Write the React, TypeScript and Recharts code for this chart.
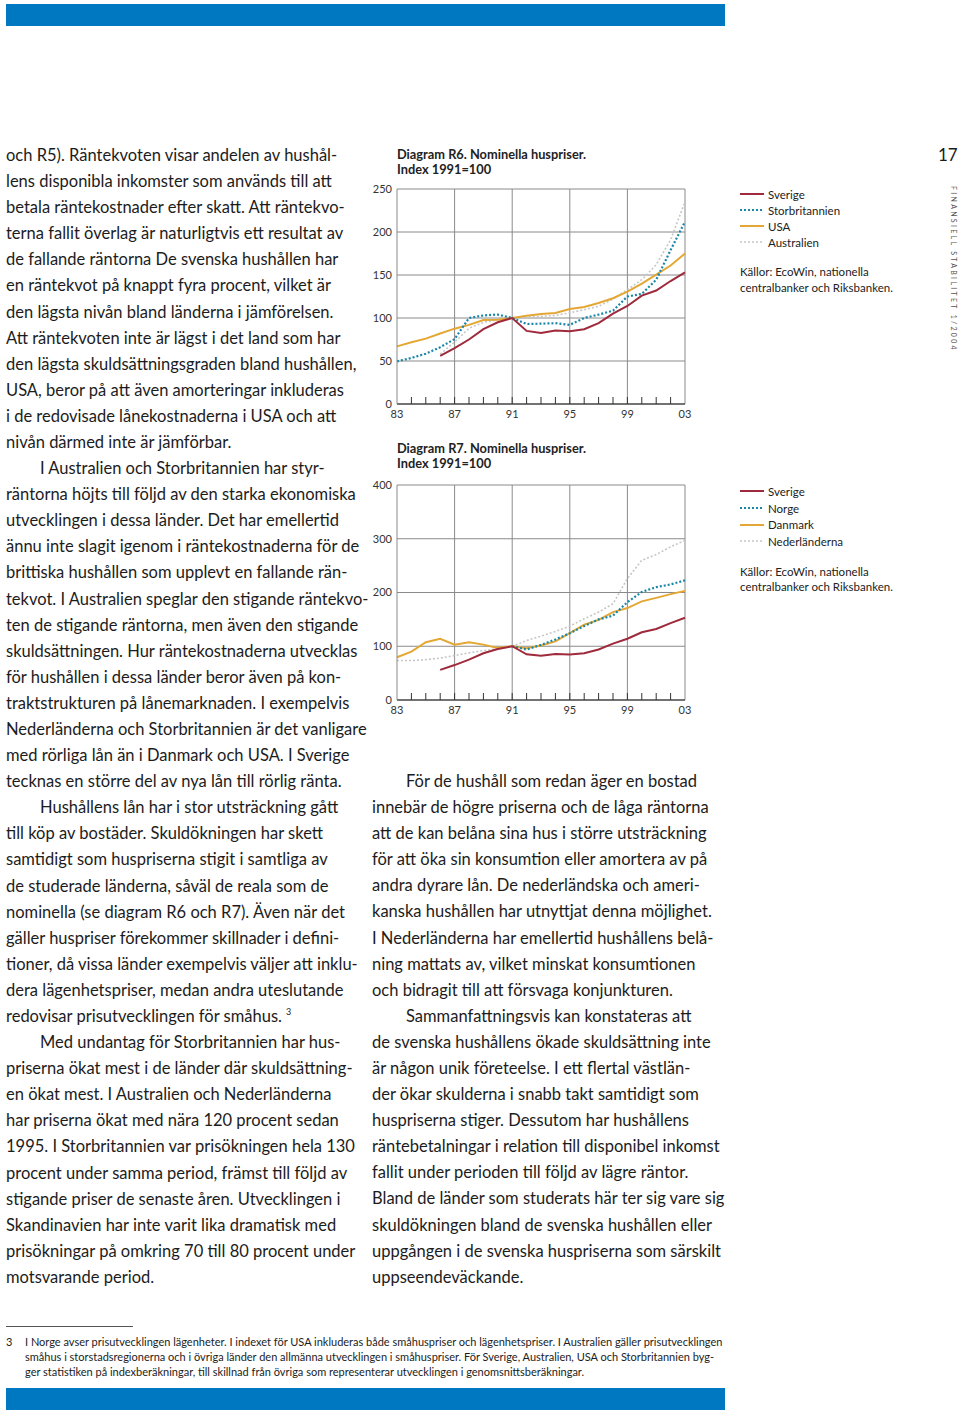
import React from 'react';
import {
  LineChart, Line, XAxis, YAxis, CartesianGrid, ReferenceLine, Legend,
} from 'recharts';

// år 1983–2003
const years = [1983, 1984, 1985, 1986, 1987, 1988, 1989, 1990, 1991, 1992, 1993, 1994, 1995, 1996, 1997, 1998, 1999, 2000, 2001, 2002, 2003];
const gridYears = [1987, 1991, 1995, 1999, 2003];

const sverige = [null, null, null, 56, 65, 75, 87, 95, 100, 85, 82.5, 85.5, 84.5, 87, 94, 105, 114, 126, 132, 143, 153];
const storbritannien = [49.6, 53.5, 58.5, 66, 75.5, 100, 103, 104, 100, 93, 93.4, 94, 92, 100, 104, 108.5, 125, 128, 144.5, 179, 212];
const usa = [67, 71.7, 76, 82, 87.6, 92, 97.7, 98, 100, 102.7, 104.7, 105.8, 110.5, 112.8, 117.4, 123, 130.6, 140, 150.4, 161, 175];
const australien = [null, null, null, 58, 72, 88, 95, 98, 100, 101, 102, 103, 106, 109.7, 113.6, 122, 133, 144.5, 162, 191, 235];

const norge = [null, null, null, null, null, null, null, null, 100, 94, 102.6, 112.6, 124.4, 137.5, 150, 157, 182, 201, 210, 215, 222.7];
const danmark = [79.6, 90, 107.6, 114, 103, 107.6, 103, 97, 100, 96.4, 101.4, 109, 124.4, 140, 149, 163.6, 171, 183.5, 190, 197, 203];
const nederlanderna = [73.4, 73.4, 75, 78, 82.7, 87.7, 92, 95, 100, 110.7, 118.8, 127.5, 137.5, 151, 163.6, 179, 226, 260, 270.6, 285, 297];

const r6Ticks = [0, 50, 100, 150, 200, 250];
const r7Ticks = [0, 100, 200, 300, 400];

const leftLines = [
  'och R5). Räntekvoten visar andelen av hushål-',
  'lens disponibla inkomster som används till att',
  'betala räntekostnader efter skatt. Att räntekvo-',
  'terna fallit överlag är naturligtvis ett resultat av',
  'de fallande räntorna De svenska hushållen har',
  'en räntekvot på knappt fyra procent, vilket är',
  'den lägsta nivån bland länderna i jämförelsen.',
  'Att räntekvoten inte är lägst i det land som har',
  'den lägsta skuldsättningsgraden bland hushållen,',
  'USA, beror på att även amorteringar inkluderas',
  'i de redovisade lånekostnaderna i USA och att',
  'nivån därmed inte är jämförbar.',
  '>I Australien och Storbritannien har styr-',
  'räntorna höjts till följd av den starka ekonomiska',
  'utvecklingen i dessa länder. Det har emellertid',
  'ännu inte slagit igenom i räntekostnaderna för de',
  'brittiska hushållen som upplevt en fallande rän-',
  'tekvot. I Australien speglar den stigande räntekvo-',
  'ten de stigande räntorna, men även den stigande',
  'skuldsättningen. Hur räntekostnaderna utvecklas',
  'för hushållen i dessa länder beror även på kon-',
  'traktstrukturen på lånemarknaden. I exempelvis',
  'Nederländerna och Storbritannien är det vanligare',
  'med rörliga lån än i Danmark och USA. I Sverige',
  'tecknas en större del av nya lån till rörlig ränta.',
  '>Hushållens lån har i stor utsträckning gått',
  'till köp av bostäder. Skuldökningen har skett',
  'samtidigt som huspriserna stigit i samtliga av',
  'de studerade länderna, såväl de reala som de',
  'nominella (se diagram R6 och R7). Även när det',
  'gäller huspriser förekommer skillnader i defini-',
  'tioner, då vissa länder exempelvis väljer att inklu-',
  'dera lägenhetspriser, medan andra uteslutande',
  'redovisar prisutvecklingen för småhus.^3',
  '>Med undantag för Storbritannien har hus-',
  'priserna ökat mest i de länder där skuldsättning-',
  'en ökat mest. I Australien och Nederländerna',
  'har priserna ökat med nära 120 procent sedan',
  '1995. I Storbritannien var prisökningen hela 130',
  'procent under samma period, främst till följd av',
  'stigande priser de senaste åren. Utvecklingen i',
  'Skandinavien har inte varit lika dramatisk med',
  'prisökningar på omkring 70 till 80 procent under',
  'motsvarande period.',
];

const rightLines = [
  '>För de hushåll som redan äger en bostad',
  'innebär de högre priserna och de låga räntorna',
  'att de kan belåna sina hus i större utsträckning',
  'för att öka sin konsumtion eller amortera av på',
  'andra dyrare lån. De nederländska och ameri-',
  'kanska hushållen har utnyttjat denna möjlighet.',
  'I Nederländerna har emellertid hushållens belå-',
  'ning mattats av, vilket minskat konsumtionen',
  'och bidragit till att försvaga konjunkturen.',
  '>Sammanfattningsvis kan konstateras att',
  'de svenska hushållens ökade skuldsättning inte',
  'är någon unik företeelse. I ett flertal västlän-',
  'der ökar skulderna i snabb takt samtidigt som',
  'huspriserna stiger. Dessutom har hushållens',
  'räntebetalningar i relation till disponibel inkomst',
  'fallit under perioden till följd av lägre räntor.',
  'Bland de länder som studerats här ter sig vare sig',
  'skuldökningen bland de svenska hushållen eller',
  'uppgången i de svenska huspriserna som särskilt',
  'uppseendeväckande.',
];

const footLines = [
  'I Norge avser prisutvecklingen lägenheter. I indexet för USA inkluderas både småhuspriser och lägenhetspriser. I Australien gäller prisutvecklingen',
  'småhus i storstadsregionerna och i övriga länder den allmänna utvecklingen i småhuspriser. För Sverige, Australien, USA och Storbritannien byg-',
  'ger statistiken på indexberäkningar, till skillnad från övriga som representerar utvecklingen i genomsnittsberäkningar.',
];

// legend order as in the reference
const r6Legend = ['Sverige', 'Storbritannien', 'USA', 'Australien'];
const r7Legend = ['Sverige', 'Norge', 'Danmark', 'Nederländerna'];

const r6Data = years.map((y, i) => ({
  year: y, Sverige: sverige[i], Storbritannien: storbritannien[i], USA: usa[i], Australien: australien[i],
}));
const r7Data = years.map((y, i) => ({
  year: y, Sverige: sverige[i], Norge: norge[i], Danmark: danmark[i], 'Nederländerna': nederlanderna[i],
}));

const RED = '#9e2a3c';
const TEAL = '#1b87a8';
const ORANGE = '#e5a734';
const GREY = '#c6c6c6';
const GRID = '#8a8a8a';
const FONT = 'Lato, "Open Sans", sans-serif';

const YearTick = (props: any) => {
  const { x, y, payload } = props;
  const v = payload.value as number;
  const show = (v - 1983) % 4 === 0;
  return (
    <g>
      {v !== 1983 && v !== 2003 && <line x1={x} x2={x} y1={y} y2={y - 7} stroke="#333" strokeWidth={1} />}
      {show && (
        <text x={x} y={y + 14} textAnchor="middle" fontSize={11} fill="#333" fontFamily={FONT}>
          {String(v % 100).padStart(2, '0')}
        </text>
      )}
    </g>
  );
};

const LegendBox = (props: any) => {
  const { payload, gap, order } = props;
  const items = order
    .map((k: string) => (payload || []).find((p: any) => p.value === k))
    .filter(Boolean);
  return (
    <div style={{ fontFamily: FONT, fontSize: 11.5, color: '#222' }}>
      {items.map((p: any) => (
        <div key={p.value} style={{ height: gap, display: 'flex', alignItems: 'center' }}>
          <svg width={28} height={6}>
            <line x1={0} x2={24} y1={3} y2={3} stroke={p.color}
              strokeWidth={p.payload?.strokeWidth ?? 2}
              strokeDasharray={p.payload?.strokeDasharray} />
          </svg>
          <span>{p.value}</span>
        </div>
      ))}
      <div style={{ marginTop: 14, lineHeight: '15.5px' }}>
        Källor: EcoWin, nationella<br />centralbanker och Riksbanken.
      </div>
    </div>
  );
};

type ChartProps = {
  data: any[];
  ticks: number[];
  max: number;
  series: { key: string; color: string; width: number; dash?: string }[];
  order: string[];
  gap: number;
  legendTop: number;
};

const PriceChart = ({ data, ticks, max, series, order, gap, legendTop }: ChartProps) => (
  <LineChart width={560} height={250} data={data} margin={{ top: 9, right: 235, left: 0, bottom: 6 }}>
    <CartesianGrid vertical={false} stroke={GRID} strokeWidth={1} />
    {gridYears.map((y) => (
      <ReferenceLine key={y} x={y} stroke={GRID} strokeWidth={1} />
    ))}
    <XAxis
      dataKey="year" type="number" domain={[1983, 2003]} ticks={years} interval={0}
      tickSize={0} tickMargin={0} height={20} tick={<YearTick />}
      axisLine={{ stroke: '#222', strokeWidth: 1.2 }}
    />
    <YAxis
      domain={[0, max]} ticks={ticks} width={37} tickSize={0} tickMargin={5}
      tickLine={false} axisLine={{ stroke: GRID }}
      tick={{ fontSize: 11, fill: '#333', fontFamily: FONT }}
    />
    <Legend
      layout="vertical" align="center" verticalAlign="middle"
      wrapperStyle={{ left: 380, top: legendTop, width: 180 }}
      content={<LegendBox gap={gap} order={order} />}
    />
    {series.map((s) => (
      <Line key={s.key} dataKey={s.key} stroke={s.color} strokeWidth={s.width}
        strokeDasharray={s.dash} dot={false} type="linear" isAnimationActive={false} />
    ))}
  </LineChart>
);

// drawing order: grey at the back, red on top
const r6Series = [
  { key: 'Australien', color: GREY, width: 1.6, dash: '2 2' },
  { key: 'USA', color: ORANGE, width: 2 },
  { key: 'Storbritannien', color: TEAL, width: 2.2, dash: '2 2' },
  { key: 'Sverige', color: RED, width: 2 },
];
const r7Series = [
  { key: 'Nederländerna', color: GREY, width: 1.6, dash: '2 2' },
  { key: 'Danmark', color: ORANGE, width: 2 },
  { key: 'Norge', color: TEAL, width: 2.2, dash: '2 2' },
  { key: 'Sverige', color: RED, width: 2 },
];

const TextLines = ({ lines, left, top, indent }: { lines: string[]; left: number; top: number; indent: number }) => (
  <>
    {lines.map((l, i) => {
      const ind = l.startsWith('>');
      let t = ind ? l.slice(1) : l;
      let sup: string | null = null;
      if (t.includes('^')) {
        const parts = t.split('^');
        t = parts[0];
        sup = parts[1];
      }
      return (
        <div key={i} style={{
          position: 'absolute', left: left + (ind ? indent : 0), top: top + i * 26.09 - 13,
          height: 26, lineHeight: '26px', whiteSpace: 'nowrap',
        }}>
          {t}
          {sup && (
            <span style={{ fontSize: 9, marginLeft: 4, position: 'relative', top: -7 }}>{sup}</span>
          )}
        </div>
      );
    })}
  </>
);

const Title = ({ top, text }: { top: number; text: string }) => (
  <div style={{
    position: 'absolute', left: 397, top, fontWeight: 700, fontSize: 12.8,
    lineHeight: '15px', color: '#222', whiteSpace: 'nowrap',
  }}>
    {text}<br />Index 1991=100
  </div>
);

export default function App() {
  return (
    <div style={{
      position: 'absolute', left: 0, top: 0, width: 960, height: 1412, background: '#fff',
      fontFamily: FONT, color: '#1c1c1c', fontSize: 16.5, overflow: 'hidden',
    }}>
      <div style={{ position: 'absolute', left: 6, top: 4, width: 719, height: 22, background: '#0077c1' }} />
      <div style={{ position: 'absolute', left: 6, top: 1388, width: 719, height: 22, background: '#0077c1' }} />

      <div style={{ position: 'absolute', left: 938, top: 143, fontSize: 17, lineHeight: '24px' }}>17</div>
      <div style={{
        position: 'absolute', left: 950, top: 186, writingMode: 'vertical-rl', fontSize: 7,
        letterSpacing: 2.3, color: '#555', whiteSpace: 'nowrap',
      }}>
        FINANSIELL STABILITET 1/2004
      </div>

      <TextLines lines={leftLines} left={6} top={155} indent={34} />
      <TextLines lines={rightLines} left={372} top={781} indent={34} />

      <Title top={147} text="Diagram R6. Nominella huspriser." />
      <div style={{ position: 'absolute', left: 360, top: 180 }}>
        <PriceChart data={r6Data} ticks={r6Ticks} max={250} series={r6Series}
          order={r6Legend} gap={16} legendTop={6} />
      </div>

      <Title top={441} text="Diagram R7. Nominella huspriser." />
      <div style={{ position: 'absolute', left: 360, top: 476 }}>
        <PriceChart data={r7Data} ticks={r7Ticks} max={400} series={r7Series}
          order={r7Legend} gap={16.7} legendTop={7} />
      </div>

      <div style={{ position: 'absolute', left: 6, top: 1326, width: 127, height: 1, background: '#555' }} />
      <div style={{ position: 'absolute', left: 6, top: 1334, fontSize: 11, lineHeight: '15px' }}>3</div>
      {footLines.map((l, i) => (
        <div key={i} style={{
          position: 'absolute', left: 25, top: 1334 + i * 15, fontSize: 11, lineHeight: '15px',
          whiteSpace: 'nowrap',
        }}>
          {l}
        </div>
      ))}
    </div>
  );
}
